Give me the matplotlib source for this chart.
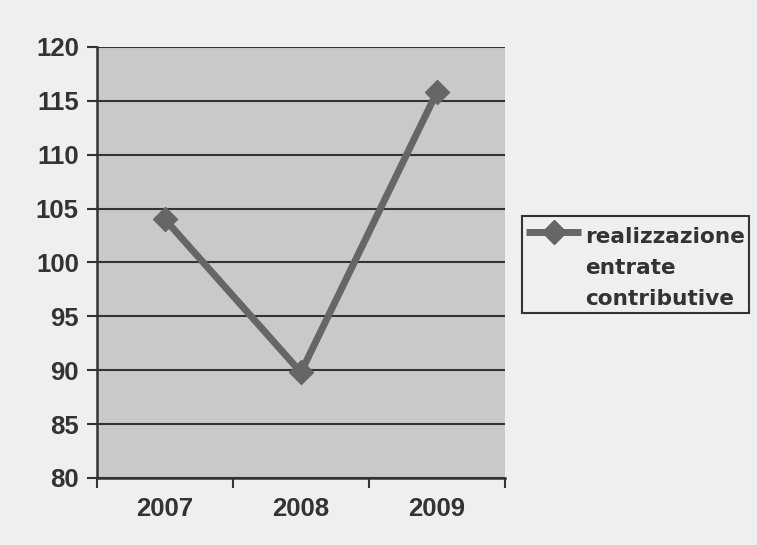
import matplotlib
matplotlib.use("Agg")
import matplotlib.pyplot as plt
from matplotlib.lines import Line2D
from matplotlib.offsetbox import (AnchoredOffsetbox, DrawingArea, HPacker,
                                  TextArea, VPacker)

years = ["2007", "2008", "2009"]
realizzazione = [104, 89.8, 115.8]
y_ticks = [80, 85, 90, 95, 100, 105, 110, 115, 120]
series_label = "realizzazione\nentrate\ncontributive"

plt.rcParams['font.family'] = ['Liberation Sans', 'DejaVu Sans']

LINE_COLOR = "#666666"
INK = "#333333"

fig = plt.figure(figsize=(7.57, 5.45), dpi=100)
fig.patch.set_facecolor("#efefef")
ax = fig.add_axes([0.128, 0.123, 0.539, 0.791])
ax.set_facecolor("#c9c9c9")

x = list(range(len(years)))
line, = ax.plot(x, realizzazione, color=LINE_COLOR, linewidth=5,
                marker="D", markersize=12, markerfacecolor=LINE_COLOR,
                markeredgecolor=LINE_COLOR, label=series_label, zorder=3)

ax.set_xlim(-0.5, len(years) - 0.5)
ax.set_ylim(y_ticks[0], y_ticks[-1])
ax.set_yticks(y_ticks)
ax.set_yticklabels([str(v) for v in y_ticks])
ax.set_xticks(x)
ax.set_xticklabels(years)
ax.set_xticks([i - 0.5 for i in range(len(years) + 1)], minor=True)
ax.tick_params(axis="x", which="major", length=0, pad=14)
ax.tick_params(axis="x", which="minor", length=7, width=1.5, color=INK)
ax.tick_params(axis="y", length=7, width=1.5, color=INK, pad=6)
for lab in ax.get_xticklabels() + ax.get_yticklabels():
    lab.set_fontsize(18.5)
    lab.set_fontweight("bold")
    lab.set_color(INK)

ax.grid(axis="y", color=INK, linewidth=1.5)
ax.set_axisbelow(True)
for side in ("top", "right"):
    ax.spines[side].set_visible(False)
for side in ("left", "bottom"):
    ax.spines[side].set_color(INK)
    ax.spines[side].set_linewidth(1.8)

# Legend: handle aligned with the first line of the label
handle_area = DrawingArea(39.5, 7.2, 0, 0)
handle_area.add_artist(Line2D([0, 39.5], [3.6, 3.6], color=LINE_COLOR,
                              linewidth=5, solid_capstyle="butt"))
handle_area.add_artist(Line2D([19.75], [3.6], marker="D", markersize=12,
                              color=LINE_COLOR, linestyle="none"))
label_area = TextArea(line.get_label(),
                      textprops=dict(fontsize=15.6, fontweight="bold",
                                     color=INK, family="DejaVu Sans",
                                     linespacing=1.68))
entry = HPacker(children=[handle_area, label_area], align="top", pad=0, sep=3)
top_gap = DrawingArea(1, 5, 0, 0)
content = VPacker(children=[top_gap, entry], align="left", pad=0, sep=0)
legend_box = AnchoredOffsetbox(loc="upper left", child=content, pad=0.3,
                               borderpad=0, frameon=True,
                               bbox_to_anchor=(522 / 757, 1 - 216 / 545),
                               bbox_transform=fig.transFigure)
legend_box.patch.set_edgecolor(INK)
legend_box.patch.set_linewidth(1.5)
legend_box.patch.set_facecolor("#efefef")
legend_box.set_clip_on(False)
ax.add_artist(legend_box)

fig.savefig("out.png", dpi=100, facecolor=fig.get_facecolor())
